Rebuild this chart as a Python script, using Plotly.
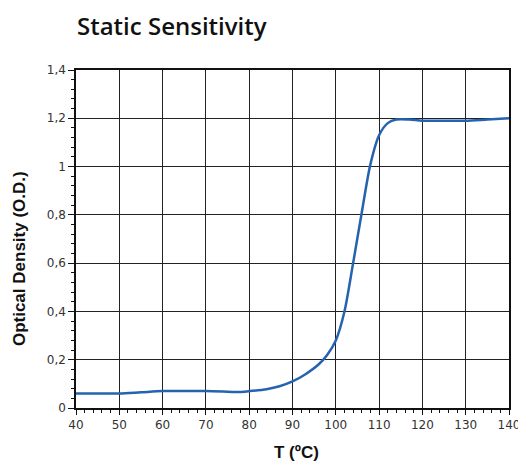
import plotly.graph_objects as go

temperature = [40, 45, 50, 55, 60, 65, 70, 74, 77, 80, 84, 87, 90, 93, 96, 98, 100, 102, 104, 106, 108, 110, 112, 114, 117, 120, 125, 130, 135, 140]
optical_density = [0.06, 0.06, 0.06, 0.065, 0.07, 0.07, 0.07, 0.068, 0.066, 0.07, 0.078, 0.09, 0.11, 0.14, 0.18, 0.22, 0.28, 0.40, 0.60, 0.81, 1.01, 1.13, 1.18, 1.195, 1.195, 1.19, 1.19, 1.19, 1.195, 1.20]

x_ticks = [40, 50, 60, 70, 80, 90, 100, 110, 120, 130, 140]
y_ticks = [0, 0.2, 0.4, 0.6, 0.8, 1.0, 1.2, 1.4]

W, H = 518, 453

fig = go.Figure()
fig.add_trace(go.Scatter(
    x=temperature, y=optical_density, mode="lines",
    line=dict(color="#2563b0", width=2.5, shape="spline", smoothing=0.8),
    hoverinfo="skip", showlegend=False,
))

axis_common = dict(
    showline=True, linecolor="#111", linewidth=1.5, mirror=True,
    showgrid=True, gridcolor="#222", gridwidth=1.4,
    ticks="outside", tickcolor="#111", tickwidth=1.3,
    tickfont=dict(family="DejaVu Sans", size=12, color="#333"),
    zeroline=False, automargin=False,
)

title_font = dict(family="Liberation Sans", size=17, color="#111")

fig.update_layout(
    width=W, height=H,
    margin=dict(l=68, r=17, t=62, b=53),
    paper_bgcolor="white", plot_bgcolor="white",
    separators=", ",
    title=dict(text="Static Sensitivity", x=69/W, xanchor="left", xref="container",
               y=1-19/H, yanchor="middle", yref="container",
               font=dict(family="Open Sans", size=24, weight=600, color="#111")),
    xaxis=dict(range=[40, 140], tickvals=x_ticks, ticklen=5,
               minor=dict(dtick=2, ticks="outside", ticklen=3, tickcolor="#111", tickwidth=1.2, showgrid=False),
               **axis_common),
    yaxis=dict(range=[0, 1.4], tickvals=y_ticks, ticklen=6,
               minor=dict(dtick=0.04, ticks="outside", ticklen=3, tickcolor="#111", tickwidth=1.2, showgrid=False),
               **axis_common),
    annotations=[
        dict(text="<b>T (ºC)</b>", xref="paper", yref="paper", x=0.51, y=-0.133,
             xanchor="center", yanchor="middle", showarrow=False, font=title_font),
        dict(text="<b>Optical Density (O.D.)</b>", xref="paper", yref="paper", x=-0.129, y=0.441,
             xanchor="center", yanchor="middle", textangle=-90, showarrow=False, font=title_font),
    ],
)

fig.write_html("out.html")
